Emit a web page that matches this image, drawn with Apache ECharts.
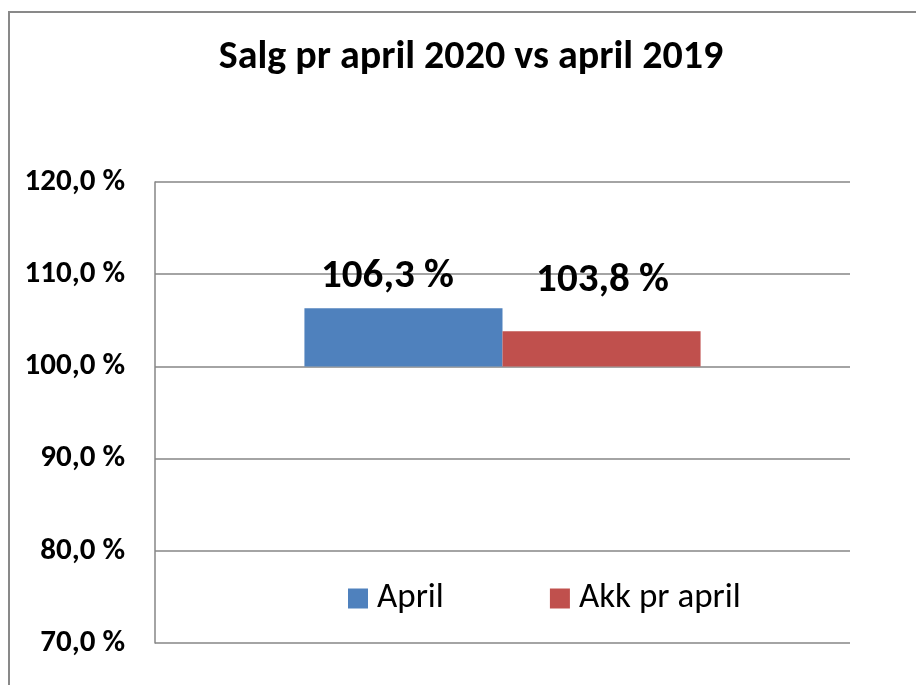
<!DOCTYPE html>
<html>
<head>
<meta charset="utf-8">
<script src="https://cdn.jsdelivr.net/npm/echarts@6/dist/echarts.min.js"></script>
<style>
html,body{margin:0;padding:0;background:#fff;}
#chart{width:916px;height:685px;}
</style>
</head>
<body>
<div id="chart"></div>
<script>
var titleText = 'Salg pr april 2020 vs april 2019';
var categories = ['Salg'];
var seriesNames = ['April', 'Akk pr april'];
var aprilValues = [106.3];
var akkValues = [103.8];
var baseline = 100;
var yTicks = [70, 80, 90, 100, 110, 120];

var FONT = 'Carlito, Lato, "Liberation Sans", sans-serif';
function fmt(v){ return v.toFixed(1).replace('.', ',') + ' %'; }

var chart = echarts.init(document.getElementById('chart'), null, {renderer:'canvas'});

function barPair(name, values, stack, color, labelOffset){
  return [
    {
      name: name + '_base', type: 'bar', stack: stack, silent: true,
      data: values.map(function(){ return baseline; }),
      itemStyle: {color: 'transparent'},
      barWidth: '28.5%', barGap: '0%'
    },
    {
      name: name, type: 'bar', stack: stack,
      data: values.map(function(v){ return +(v - baseline).toFixed(4); }),
      itemStyle: {color: color},
      barWidth: '28.5%', barGap: '0%',
      label: {
        show: true, position: 'top', offset: labelOffset,
        fontFamily: FONT, fontWeight: 'bold', fontSize: 41, color: '#000',
        formatter: function(p){ return fmt(values[p.dataIndex]); }
      }
    }
  ];
}

var option = {
  animation: false,
  backgroundColor: '#fff',
  title: {
    text: titleText, left: 466, top: 33, textAlign: 'center',
    textStyle: {fontFamily: FONT, fontWeight: 'bold', fontSize: 40, color: '#000'}
  },
  legend: {
    data: seriesNames, left: 343, top: 576,
    itemWidth: 20, itemHeight: 20, itemGap: 106, icon: 'rect',
    textStyle: {fontFamily: FONT, fontSize: 35, color: '#000', padding: [0, 0, 0, 4]}
  },
  graphic: [{
    type: 'rect', shape: {x: 9, y: 12, width: 960, height: 700},
    style: {fill: 'none', stroke: '#898989', lineWidth: 2}, silent: true
  }],
  grid: {left: 155, right: 66, top: 182, bottom: 42},
  xAxis: {
    type: 'category', data: categories,
    axisLine: {show: false}, axisTick: {show: false}, axisLabel: {show: false}
  },
  yAxis: {
    type: 'value', min: yTicks[0], max: yTicks[yTicks.length-1], interval: 10,
    axisLine: {show: true, lineStyle: {color: '#868686', width: 1.5}},
    axisTick: {show: false},
    splitLine: {show: true, lineStyle: {color: '#868686', width: 1.5}},
    axisLabel: {
      fontFamily: FONT, fontWeight: 'bold', fontSize: 31, color: '#000', margin: 30,
      formatter: function(v){ return fmt(v); }
    }
  },
  series: [].concat(
    barPair(seriesNames[0], aprilValues, 'a', '#4F81BD', [-16, -6]),
    barPair(seriesNames[1], akkValues, 'b', '#C0504D', [1, -25])
  )
};
chart.setOption(option);
</script>
</body>
</html>
